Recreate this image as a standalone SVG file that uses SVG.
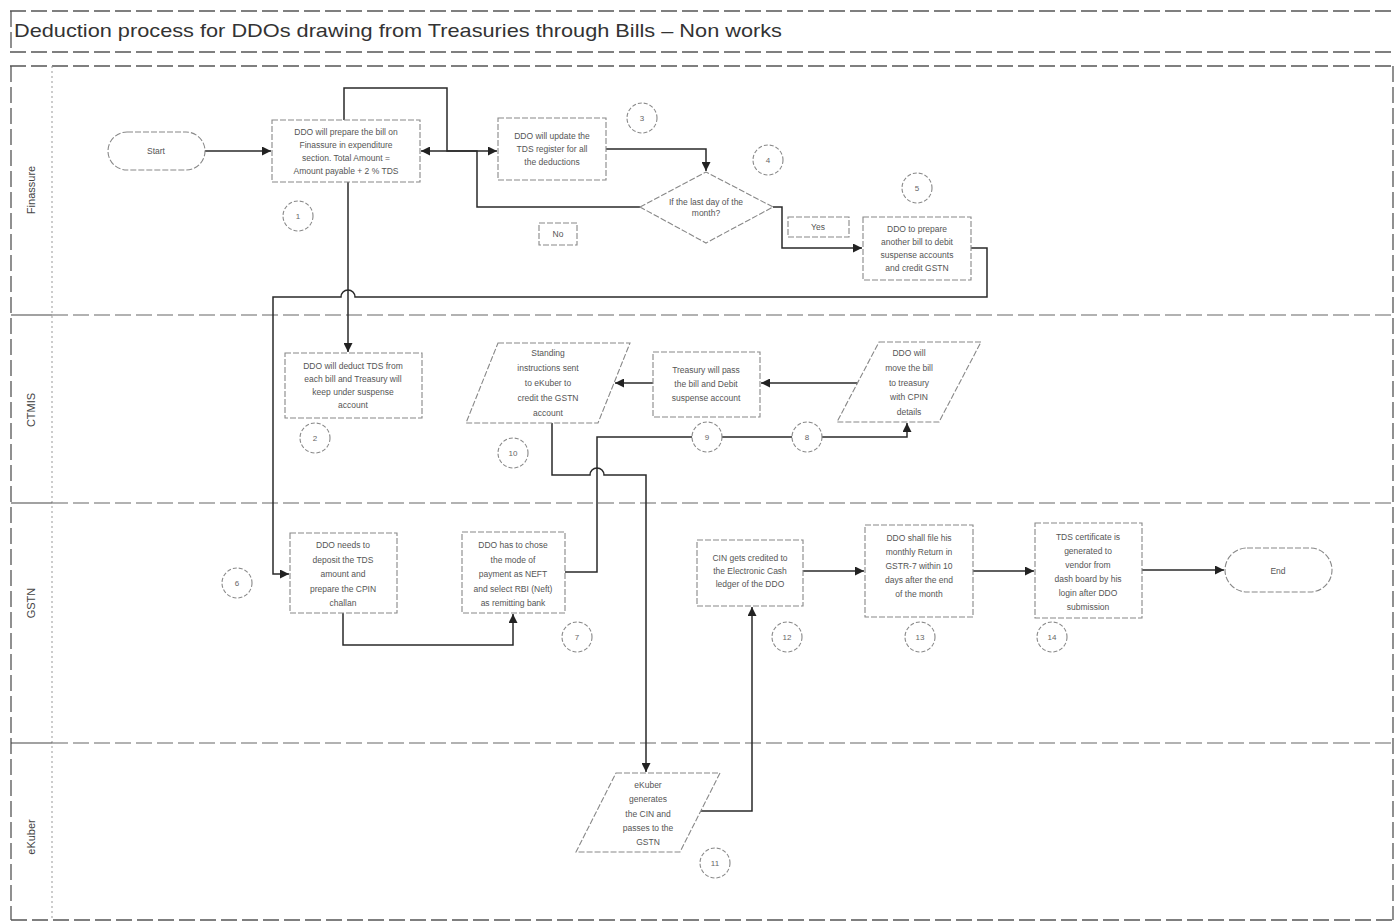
<svg xmlns="http://www.w3.org/2000/svg" width="1399" height="924" viewBox="0 0 1399 924">
<defs>
<marker id="ah" viewBox="0 0 10 10" refX="10" refY="5" markerWidth="9" markerHeight="9" markerUnits="userSpaceOnUse" orient="auto"><path d="M0 0 L10 5 L0 10 z" fill="#222"/></marker>
<style>
.frame{fill:none;stroke:#555;stroke-width:1.3;stroke-dasharray:16 5}
.lane{fill:none;stroke:#666;stroke-width:1.2;stroke-dasharray:16 5}
.dot{fill:none;stroke:#999;stroke-width:1;stroke-dasharray:2 3}
.solid{fill:none;stroke:#444;stroke-width:1.2}
.box{fill:#fff;stroke:#888;stroke-width:1.1;stroke-dasharray:6 2}
.circ{fill:#fff;stroke:#888;stroke-width:1.1;stroke-dasharray:4 2}
.con{fill:none;stroke:#2a2a2a;stroke-width:1.5}
.t{font-family:"Liberation Sans",Arial,sans-serif;font-size:8.5px;fill:#555;text-anchor:middle}
.n{font-family:"Liberation Sans",Arial,sans-serif;font-size:8px;fill:#666;text-anchor:middle}
.lab{font-family:"Liberation Sans",Arial,sans-serif;font-size:11px;fill:#444;text-anchor:middle}
.title{font-family:"Liberation Sans",Arial,sans-serif;font-size:19px;fill:#333}
</style>
</defs>
<rect width="1399" height="924" fill="#fff"/>
<g id="frame">
<line class="frame" x1="10" y1="11" x2="1395" y2="11"/>
<line class="frame" x1="10" y1="52" x2="1395" y2="52"/>
<line class="frame" x1="10" y1="66" x2="1395" y2="66"/>
<line class="frame" x1="11" y1="11" x2="11" y2="52"/>
<line class="frame" x1="11" y1="66" x2="11" y2="920"/>
<line class="frame" x1="1393" y1="66" x2="1393" y2="920"/>
<line class="frame" x1="11" y1="920" x2="1393" y2="920"/>
<line class="dot" x1="52" y1="66" x2="52" y2="920"/>
<line class="solid" x1="11" y1="315" x2="52" y2="315"/>
<line class="solid" x1="11" y1="503" x2="52" y2="503"/>
<line class="solid" x1="11" y1="743" x2="52" y2="743"/>
<line class="lane" x1="52" y1="315" x2="1393" y2="315"/>
<line class="lane" x1="52" y1="503" x2="1393" y2="503"/>
<line class="lane" x1="52" y1="743" x2="1393" y2="743"/>
<text class="title" x="14" y="37" textLength="768" lengthAdjust="spacingAndGlyphs">Deduction process for DDOs drawing from Treasuries through Bills – Non works</text>
<text class="lab" transform="translate(35,190) rotate(-90)">Finassure</text>
<text class="lab" transform="translate(35,410) rotate(-90)">CTMIS</text>
<text class="lab" transform="translate(35,603) rotate(-90)">GSTN</text>
<text class="lab" transform="translate(35,837) rotate(-90)">eKuber</text>
</g>
<g id="connectors">
<path class="con" d="M205 151 H271" marker-end="url(#ah)"/>
<path class="con" d="M344 120 V88 H447 V151 H497" marker-end="url(#ah)"/>
<path class="con" d="M640 207 H477 V151 H421" marker-end="url(#ah)"/>
<path class="con" d="M606 149 H706 V171" marker-end="url(#ah)"/>
<path class="con" d="M773 207 H782 V248 H862" marker-end="url(#ah)"/>
<path class="con" d="M971 248 H987 V297 H355 A7 7 0 0 0 341 297 H273 V574 H289" marker-end="url(#ah)"/>
<path class="con" d="M348 182 V352" marker-end="url(#ah)"/>
<path class="con" d="M343 613 V645 H513 V614" marker-end="url(#ah)"/>
<path class="con" d="M565 572 H597 V437 H907 V423" marker-end="url(#ah)"/>
<path class="con" d="M857 383 H761" marker-end="url(#ah)"/>
<path class="con" d="M653 383 H615" marker-end="url(#ah)"/>
<path class="con" d="M552 423 V475 H590 A7 7 0 0 1 604 475 H646 V772" marker-end="url(#ah)"/>
<path class="con" d="M701 811 H752 V607" marker-end="url(#ah)"/>
<path class="con" d="M803 571 H864" marker-end="url(#ah)"/>
<path class="con" d="M973 571 H1034" marker-end="url(#ah)"/>
<path class="con" d="M1142 570 H1224" marker-end="url(#ah)"/>
</g>
<g id="start">
<rect class="box" x="108" y="132" width="97" height="38" rx="19"/>
<text class="t" x="156" y="154">Start</text>
</g>
<g id="n1">
<rect class="box" x="272" y="120" width="148" height="62"/>
<text class="t"><tspan x="346" y="135">DDO will prepare the bill on</tspan><tspan x="346" y="148">Finassure in expenditure</tspan><tspan x="346" y="161">section. Total Amount =</tspan><tspan x="346" y="174">Amount payable + 2 % TDS</tspan></text>
</g>
<g id="n2">
<rect class="box" x="498" y="118" width="108" height="62"/>
<text class="t"><tspan x="552" y="139">DDO will update the</tspan><tspan x="552" y="152">TDS register for all</tspan><tspan x="552" y="165">the deductions</tspan></text>
</g>
<g id="n3">
<polygon class="box" points="640,207 706,172 773,207 706,243"/>
<text class="t"><tspan x="706" y="205">If the last day of the</tspan><tspan x="706" y="216">month?</tspan></text>
</g>
<g id="lbl-no">
<rect class="box" x="539" y="223" width="38" height="22"/>
<text class="t" x="558" y="237">No</text>
</g>
<g id="lbl-yes">
<rect class="box" x="788" y="217" width="61" height="20"/>
<text class="t" x="818" y="230">Yes</text>
</g>
<g id="n4">
<rect class="box" x="863" y="217" width="108" height="63"/>
<text class="t"><tspan x="917" y="232">DDO to prepare</tspan><tspan x="917" y="245">another bill to debit</tspan><tspan x="917" y="258">suspense accounts</tspan><tspan x="917" y="271">and credit GSTN</tspan></text>
</g>
<g id="n5">
<rect class="box" x="285" y="353" width="137" height="65"/>
<text class="t"><tspan x="353" y="369">DDO will deduct TDS from</tspan><tspan x="353" y="382">each bill and Treasury will</tspan><tspan x="353" y="395">keep under suspense</tspan><tspan x="353" y="408">account</tspan></text>
</g>
<g id="n6">
<polygon class="box" points="498,343 630,343 598,423 466,423"/>
<text class="t"><tspan x="548" y="356">Standing</tspan><tspan x="548" y="371">instructions sent</tspan><tspan x="548" y="386">to eKuber to</tspan><tspan x="548" y="401">credit the GSTN</tspan><tspan x="548" y="416">account</tspan></text>
</g>
<g id="n7">
<rect class="box" x="653" y="352" width="107" height="65"/>
<text class="t"><tspan x="706" y="373">Treasury will pass</tspan><tspan x="706" y="387">the bill and Debit</tspan><tspan x="706" y="401">suspense account</tspan></text>
</g>
<g id="n8">
<polygon class="box" points="879,342 981,342 939,422 837,422"/>
<text class="t"><tspan x="909" y="356">DDO will</tspan><tspan x="909" y="371">move the bill</tspan><tspan x="909" y="386">to treasury</tspan><tspan x="909" y="400">with CPIN</tspan><tspan x="909" y="415">details</tspan></text>
</g>
<g id="n9">
<rect class="box" x="290" y="533" width="107" height="80"/>
<text class="t"><tspan x="343" y="548">DDO needs to</tspan><tspan x="343" y="563">deposit the TDS</tspan><tspan x="343" y="577">amount and</tspan><tspan x="343" y="592">prepare the CPIN</tspan><tspan x="343" y="606">challan</tspan></text>
</g>
<g id="n10">
<rect class="box" x="462" y="532" width="103" height="81"/>
<text class="t"><tspan x="513" y="548">DDO has to chose</tspan><tspan x="513" y="563">the mode of</tspan><tspan x="513" y="577">payment as NEFT</tspan><tspan x="513" y="592">and select RBI (Neft)</tspan><tspan x="513" y="606">as remitting bank</tspan></text>
</g>
<g id="n11">
<rect class="box" x="697" y="540" width="106" height="66"/>
<text class="t"><tspan x="750" y="561">CIN gets credited to</tspan><tspan x="750" y="574">the Electronic Cash</tspan><tspan x="750" y="587">ledger of the DDO</tspan></text>
</g>
<g id="n12">
<rect class="box" x="865" y="525" width="108" height="92"/>
<text class="t"><tspan x="919" y="541">DDO shall file his</tspan><tspan x="919" y="555">monthly Return in</tspan><tspan x="919" y="569">GSTR-7 within 10</tspan><tspan x="919" y="583">days after the end</tspan><tspan x="919" y="597">of the month</tspan></text>
</g>
<g id="n13">
<rect class="box" x="1035" y="523" width="107" height="95"/>
<text class="t"><tspan x="1088" y="540">TDS certificate is</tspan><tspan x="1088" y="554">generated to</tspan><tspan x="1088" y="568">vendor from</tspan><tspan x="1088" y="582">dash board by his</tspan><tspan x="1088" y="596">login after DDO</tspan><tspan x="1088" y="610">submission</tspan></text>
</g>
<g id="end">
<rect class="box" x="1225" y="548" width="107" height="44" rx="22"/>
<text class="t" x="1278" y="574">End</text>
</g>
<g id="n14">
<polygon class="box" points="616,773 720,773 680,852 576,852"/>
<text class="t"><tspan x="648" y="788">eKuber</tspan><tspan x="648" y="802">generates</tspan><tspan x="648" y="817">the CIN and</tspan><tspan x="648" y="831">passes to the</tspan><tspan x="648" y="845">GSTN</tspan></text>
</g>
<g id="steps">
<circle class="circ" cx="298" cy="216" r="15"/><text class="n" x="298" y="219">1</text>
<circle class="circ" cx="315" cy="438" r="15"/><text class="n" x="315" y="441">2</text>
<circle class="circ" cx="642" cy="118" r="15"/><text class="n" x="642" y="121">3</text>
<circle class="circ" cx="768" cy="160" r="15"/><text class="n" x="768" y="163">4</text>
<circle class="circ" cx="917" cy="188" r="15"/><text class="n" x="917" y="191">5</text>
<circle class="circ" cx="237" cy="583" r="15"/><text class="n" x="237" y="586">6</text>
<circle class="circ" cx="577" cy="637" r="15"/><text class="n" x="577" y="640">7</text>
<circle class="circ" cx="807" cy="437" r="15"/><text class="n" x="807" y="440">8</text>
<circle class="circ" cx="707" cy="437" r="15"/><text class="n" x="707" y="440">9</text>
<circle class="circ" cx="513" cy="453" r="15"/><text class="n" x="513" y="456">10</text>
<circle class="circ" cx="715" cy="863" r="15"/><text class="n" x="715" y="866">11</text>
<circle class="circ" cx="787" cy="637" r="15"/><text class="n" x="787" y="640">12</text>
<circle class="circ" cx="920" cy="637" r="15"/><text class="n" x="920" y="640">13</text>
<circle class="circ" cx="1052" cy="637" r="15"/><text class="n" x="1052" y="640">14</text>
</g>
</svg>
